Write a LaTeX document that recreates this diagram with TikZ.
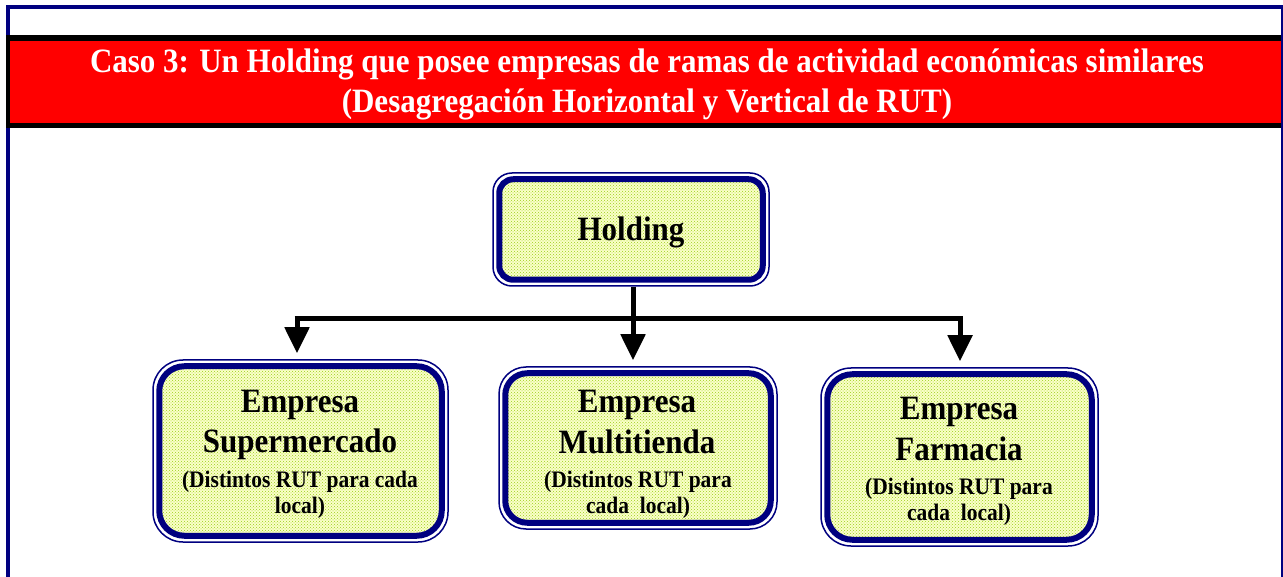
\documentclass[tikz,border=0pt]{standalone}
\usepackage{fontspec}
\setmainfont{Liberation Serif}
\usetikzlibrary{arrows.meta,patterns}
\definecolor{navy}{RGB}{0,0,128}
\definecolor{banner}{RGB}{255,0,0}
\definecolor{boxbase}{RGB}{250,255,200}
\definecolor{boxdots}{RGB}{155,205,25}
\tikzset{
  outerbox/.style={draw=navy, line width=1.5pt, fill=white, rectangle, inner sep=0pt},
  innerbox/.style={draw=navy, line width=6pt, preaction={fill=boxbase}, pattern=crosshatch dots, pattern color=boxdots},
  bigtxt/.style={anchor=base, inner sep=0pt, yscale=1.1, transform shape, font=\bfseries\fontsize{31}{36}\selectfont},
  smalltxt/.style={anchor=base, inner sep=0pt, yscale=1.1, transform shape, font=\bfseries\fontsize{21.5}{25}\selectfont},
  titletxt/.style={anchor=base, inner sep=0pt, yscale=1.1, transform shape, text=white, font=\bfseries\fontsize{31}{36}\selectfont},
  conn/.style={line width=5pt, draw=black},
  arr/.style={conn, -{Triangle[length=26pt,width=24pt]}, shorten >=6pt},
}
\newcommand{\orgbox}[7]{%
  \node[outerbox, minimum width=#4pt, minimum height=#5pt, rounded corners=#6pt] (#1) at (#2,#3) {};
  \draw[innerbox, rounded corners=#7pt] ([shift={(7pt,-7pt)}]#1.north west) rectangle ([shift={(-7pt,7pt)}]#1.south east);
}
\begin{document}
\begin{tikzpicture}[x=1pt,y=1pt]
\useasboundingbox (0,0) rectangle (1283,-577);
\fill[white] (0,0) rectangle (1283,-577);
% outer frame
\draw[navy, line width=4pt] (8,-580) -- (8,-7) -- (1284,-7);
\draw[navy, line width=1.5pt] (1282,-7) -- (1282,-580);
% banner
\fill[banner] (8,-41) rectangle (1281.3,-123);
\draw[black, line width=6pt] (6,-38) -- (1281.3,-38);
\draw[black, line width=5pt] (6,-125.5) -- (1281.3,-125.5);
\draw[black, line width=4pt] (8,-35) -- (8,-128);
\node[titletxt] (t1) at (647,-73) {Caso 3: Un Holding que posee empresas de ramas de actividad económicas similares};
\node[titletxt] (t2) at (647,-113) {(Desagregación Horizontal y Vertical de RUT)};
% boxes
\orgbox{hold}{631}{-229.5}{276}{113}{19}{14}
\orgbox{sup}{300.5}{-451}{295}{182}{30}{25}
\orgbox{mult}{638}{-448}{278}{162}{27}{22}
\orgbox{farm}{959.5}{-457}{277}{178}{30}{25}
% texts
\node[bigtxt] (holdt) at (631,-241) {Holding};
\node[bigtxt] (sup1) at (300,-413) {Empresa};
\node[bigtxt] (sup2) at (300,-452) {Supermercado};
\node[smalltxt] (sup3) at (300,-487) {(Distintos RUT para cada};
\node[smalltxt] (sup4) at (300,-513) {local)};
\node[bigtxt] (mult1) at (637,-413) {Empresa};
\node[bigtxt] (mult2) at (637,-453) {Multitienda};
\node[smalltxt] (mult3) at (638,-487) {(Distintos RUT para};
\node[smalltxt] (mult4) at (638,-513) {cada~ local)};
\node[bigtxt] (farm1) at (959,-419) {Empresa};
\node[bigtxt] (farm2) at (959,-460) {Farmacia};
\node[smalltxt] (farm3) at (959,-494) {(Distintos RUT para};
\node[smalltxt] (farm4) at (959,-520) {cada~ local)};
% connectors
\coordinate (jl) at (297,-319);
\coordinate (jm) at (633,-319);
\coordinate (jr) at (960,-319);
\draw[conn] (hold.south -| jm) -- (jm);
\draw[conn] ([xshift=-2.5pt]jl) -- ([xshift=2.5pt]jr);
\draw[arr] ([yshift=2.5pt]jl) -- (sup.north -| jl);
\draw[arr] (jm) -- (mult.north -| jm);
\draw[arr] ([yshift=2.5pt]jr) -- (farm.north -| jr);
\end{tikzpicture}
\end{document}
